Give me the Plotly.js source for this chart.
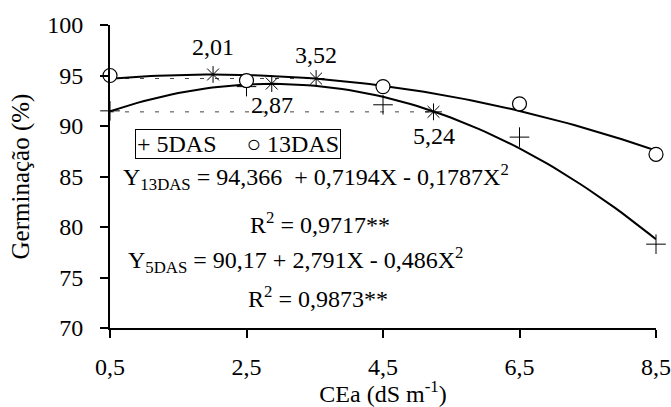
<!DOCTYPE html>
<html>
<head>
<meta charset="utf-8">
<script src="https://cdn.plot.ly/plotly-3.0.1.min.js"></script>
<style>html,body{margin:0;padding:0;background:#fff;}#chart{width:671px;height:407px;}</style>
</head>
<body>
<div id="chart"></div>
<script>
// ---- data ----
var xLevels = [0.5, 2.5, 4.5, 6.5, 8.5];
var germ5DAS = [91.5, 93.9, 92.1, 88.9, 78.3];
var germ13DAS = [95.0, 94.5, 93.9, 92.2, 87.2];

// regression coefficients printed in the chart (a + bX + cX^2)
var fit13DAS = [94.366, 0.7194, -0.1787];
var fit5DAS = [90.17, 2.791, -0.486];

// highlighted points (asterisks) and their labels
var astX = [2.01, 2.87, 3.52, 5.24];
var astY = [95.1, 94.2, 94.7, 91.4];
var astLabels = ["2,01", "2,87", "3,52", "5,24"];

// dashed reference lines
var ref13X = [0.5, 3.52], ref13Y = [94.7, 94.7];
var ref5X = [0.5, 5.24], ref5Y = [91.4, 91.4];

var xTickVals = [0.5, 2.5, 4.5, 6.5, 8.5];
var xTickText = ["0,5", "2,5", "4,5", "6,5", "8,5"];
var yTickVals = [70, 75, 80, 85, 90, 95, 100];
var yTickText = ["70", "75", "80", "85", "90", "95", "100"];

// ---- build fitted curves from the printed equations ----
function curve(coef) {
  var xs = [], ys = [];
  for (var i = 0; i <= 80; i++) {
    var x = 0.5 + i * 0.1;
    xs.push(x);
    ys.push(coef[0] + coef[1] * x + coef[2] * x * x);
  }
  return {x: xs, y: ys};
}
var c13 = curve(fit13DAS), c5 = curve(fit5DAS);

var FONT = "Liberation Serif";
var fs = 24;

var traces = [
  {x: ref13X, y: ref13Y, mode: "lines", line: {color: "#444", width: 1, dash: "4px,11px"}, showlegend: false, hoverinfo: "skip"},
  {x: ref5X, y: ref5Y, mode: "lines", line: {color: "#444", width: 1, dash: "4px,11px"}, showlegend: false, hoverinfo: "skip"},
  {x: c13.x, y: c13.y, mode: "lines", line: {color: "#000", width: 2}, showlegend: false},
  {x: c5.x, y: c5.y, mode: "lines", line: {color: "#000", width: 2}, showlegend: false},
  {x: xLevels, y: germ5DAS, name: "5DAS", mode: "markers", cliponaxis: false,
   marker: {symbol: "cross-thin-open", size: 14, color: "#000", line: {color: "#000", width: 1}}, showlegend: false},
  {x: xLevels, y: germ13DAS, name: "13DAS", mode: "markers", cliponaxis: false,
   marker: {symbol: "circle", size: 14, color: "#fff", line: {color: "#000", width: 1.2}}, showlegend: false},
  {x: astX, y: astY, mode: "markers", cliponaxis: false,
   marker: {symbol: "asterisk-open", size: 14, color: "#000", line: {color: "#000", width: 1}}, showlegend: false}
];

var shifts = [27, -21, 24, -24];
var annotations = astLabels.map(function (t, i) {
  return {x: astX[i], y: astY[i], xref: "x", yref: "y", text: t, showarrow: false,
    yshift: shifts[i], font: {family: FONT, size: fs, color: "#000"}};
});

function pyToPaper(py) { return (328 - py) / 303; }
function pxToPaper(px) { return (px - 110) / 546; }

var NB = "\u00A0";
annotations.push({xref: "paper", yref: "paper", x: pxToPaper(238), y: pyToPaper(143.5),
  text: "+ 5DAS" + NB + NB + NB + NB + NB + "\u25CB 13DAS", showarrow: false, bordercolor: "#000", borderwidth: 1, borderpad: 1,
  xanchor: "center", yanchor: "middle", font: {family: FONT, size: fs, color: "#000"}});
annotations.push({xref: "paper", yref: "paper", x: pxToPaper(316), y: pyToPaper(177),
  text: "Y<sub>13DAS</sub> = 94,366" + NB + NB + "+ 0,7194X - 0,1787X<sup>2</sup>", showarrow: false,
  xanchor: "center", yanchor: "middle", font: {family: FONT, size: fs, color: "#000"}});
annotations.push({xref: "paper", yref: "paper", x: pxToPaper(320), y: pyToPaper(223),
  text: "R<sup>2</sup> = 0,9717**", showarrow: false,
  xanchor: "center", yanchor: "middle", font: {family: FONT, size: fs, color: "#000"}});
annotations.push({xref: "paper", yref: "paper", x: pxToPaper(295), y: pyToPaper(260),
  text: "Y<sub>5DAS</sub> = 90,17 + 2,791X - 0,486X<sup>2</sup>", showarrow: false,
  xanchor: "center", yanchor: "middle", font: {family: FONT, size: fs, color: "#000"}});
annotations.push({xref: "paper", yref: "paper", x: pxToPaper(318), y: pyToPaper(297),
  text: "R<sup>2</sup> = 0,9873**", showarrow: false,
  xanchor: "center", yanchor: "middle", font: {family: FONT, size: fs, color: "#000"}});

var layout = {
  width: 671, height: 407,
  margin: {l: 110, r: 15, t: 25, b: 79, pad: 0},
  paper_bgcolor: "#fff", plot_bgcolor: "#fff",
  showlegend: false,
  font: {family: FONT, size: fs, color: "#000"},
  xaxis: {
    range: [0.5, 8.5], tickmode: "array", tickvals: xTickVals, ticktext: xTickText,
    showgrid: false, zeroline: false, showline: true, linecolor: "#000", linewidth: 2,
    ticks: "outside", ticklen: 8, tickwidth: 2, tickcolor: "#000", ticklabelstandoff: 8,
    tickfont: {family: FONT, size: fs, color: "#000"},
    title: {text: "CEa (dS m<sup>-1</sup>)" + NB + NB + NB, font: {family: FONT, size: fs, color: "#000"}, standoff: 13},
    fixedrange: true
  },
  yaxis: {
    range: [70, 100], tickmode: "array", tickvals: yTickVals, ticktext: yTickText,
    showgrid: false, zeroline: false, showline: true, linecolor: "#000", linewidth: 2,
    ticks: "outside", ticklen: 8, tickwidth: 2, tickcolor: "#000", ticklabelstandoff: 12,
    tickfont: {family: FONT, size: fs, color: "#000"},
    title: {text: "Germinação (%)", font: {family: FONT, size: 25, color: "#000"}, standoff: 10},
    fixedrange: true
  },
  annotations: annotations
};

Plotly.newPlot("chart", traces, layout, {displayModeBar: false});
</script>
</body>
</html>
